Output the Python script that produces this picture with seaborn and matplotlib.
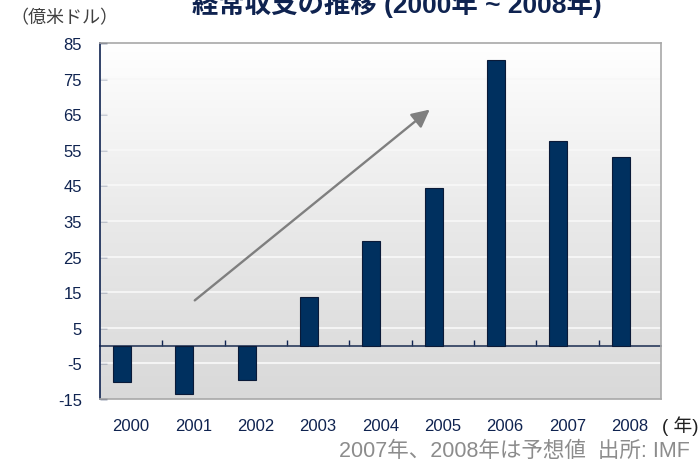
import numpy as np
import pandas as pd
import matplotlib
matplotlib.use("Agg")
import matplotlib.pyplot as plt
import seaborn as sns
from matplotlib.colors import LinearSegmentedColormap

years = ["2000", "2001", "2002", "2003", "2004", "2005", "2006", "2007", "2008"]
values = [-10.1, -13.6, -9.8, 13.7, 29.4, 44.2, 80.2, 57.6, 53.0]
y_ticks = [-15, -5, 5, 15, 25, 35, 45, 55, 65, 75, 85]
title_text = "経常収支の推移 (2000年 ~ 2008年)"
unit_text = "（億米ドル）"
x_unit_text = "( 年)"
note_text = "2007年、2008年は予想値  出所: IMF"
# trend arrow (data coords)
arrow_start = (1.02, 12.7)
arrow_end = (4.79, 66.3)

sns.set_theme(style="white")
plt.rcParams["font.family"] = ["Liberation Sans", "Noto Sans CJK JP"]

navy = "#0f2350"
bar_color = "#00305f"

fig = plt.figure(figsize=(7, 4.6), dpi=100)
ax = fig.add_axes([100 / 700, 1 - 400 / 460, 561 / 700, 356 / 460])

# main series plus an empty companion series (bars sit left of category centre)
df = pd.DataFrame({
    "year": years + years,
    "value": values + [np.nan] * len(years),
    "series": ["actual"] * len(years) + ["blank"] * len(years),
})

grad = np.linspace(0, 1, 256).reshape(-1, 1)
cmap = LinearSegmentedColormap.from_list("bg", ["#d9d9d9", "#e9e9e9", "#ffffff"])
ax.imshow(grad, extent=[0, 1, 0, 1], transform=ax.transAxes, origin="lower",
          cmap=cmap, aspect="auto", zorder=0)

sns.barplot(data=df, x="year", y="value", hue="series",
            hue_order=["actual", "blank"],
            palette={"actual": bar_color, "blank": bar_color},
            width=0.58, dodge=True, legend=False,
            edgecolor="#0a1a38", linewidth=0.8, ax=ax, zorder=3, saturation=1)

ax.set_xlim(-0.5, len(years) - 0.5)
ax.set_ylim(-15, 85)
ax.set_yticks(y_ticks)
ax.set_yticklabels([str(t) for t in y_ticks])
ax.set_xlabel("")
ax.set_ylabel("")

for t in y_ticks[1:-1]:
    ax.axhline(t, color="#f7f7f7", lw=1.3, zorder=1)

# zero line with category boundary ticks
sec = ax.secondary_xaxis(0.15)
sec.set_xticks(np.arange(0.5, len(years) - 0.5, 1.0))
sec.set_xticklabels([])
sec.tick_params(axis="x", direction="in", length=4, width=1, color=navy)
for s in ["top", "left", "right"]:
    sec.spines[s].set_visible(False)
sec.spines["bottom"].set_color("#2a3a5c")
sec.spines["bottom"].set_linewidth(1.2)
sec.spines["bottom"].set_zorder(5)

ax.spines["left"].set_color(navy)
ax.spines["left"].set_linewidth(1.2)
for s in ["top", "right", "bottom"]:
    ax.spines[s].set_color("#a8a8a8")
    ax.spines[s].set_linewidth(1.2)

ax.tick_params(axis="y", direction="in", length=5, width=1, color=navy,
               labelsize=12, labelcolor=navy, pad=13, left=True)
ax.tick_params(axis="x", length=0, labelsize=12, labelcolor=navy, pad=14)

ax.annotate("", xy=arrow_end, xytext=arrow_start,
            arrowprops=dict(arrowstyle="-|>,head_length=0.9,head_width=0.45",
                            color="#7f7f7f", lw=1.7, shrinkA=0, shrinkB=0),
            zorder=4)

fig.text(397 / 700, 1 - 13 / 460, title_text, ha="center", va="baseline",
         fontsize=19, fontweight="bold", color=navy)
fig.text(10 / 700, 1 - 19 / 460, unit_text, ha="left", va="center",
         fontsize=13, color="#404040")
fig.text(698 / 700, 1 - 426 / 460, x_unit_text, ha="right", va="center",
         fontsize=13.5, color="#202020")
fig.text(690 / 700, 1 - 451 / 460, note_text, ha="right", va="center",
         fontsize=15.5, color="#8c8c8c")

fig.savefig("out.png", dpi=100)
